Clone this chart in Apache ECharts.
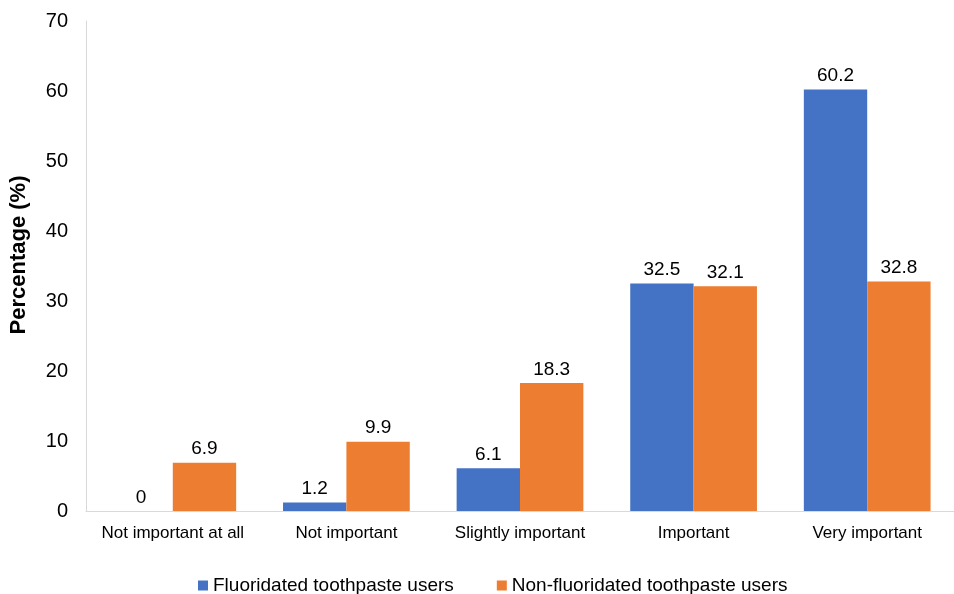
<!DOCTYPE html>
<html>
<head>
<meta charset="utf-8">
<script src="https://cdn.jsdelivr.net/npm/echarts@6/dist/echarts.min.js"></script>
<style>html,body{margin:0;padding:0;background:#fff;overflow:hidden;}#c{width:954px;height:594px;}</style>
</head>
<body>
<div id="c"></div>
<script>
const categories = ["Not important at all", "Not important", "Slightly important", "Important", "Very important"];
const fluoridated = [0, 1.2, 6.1, 32.5, 60.2];
const nonFluoridated = [6.9, 9.9, 18.3, 32.1, 32.8];
const seriesNames = ["Fluoridated toothpaste users", "Non-fluoridated toothpaste users"];
const yMin = 0, yMax = 70, yInterval = 10;

const FONT = '"Liberation Sans", Arial, sans-serif';
const chart = echarts.init(document.getElementById('c'), null, {renderer: 'canvas'});
const labelStyle = {show: true, position: 'top', distance: 4, color: '#000', fontSize: 19, fontFamily: FONT};
chart.setOption({
  animation: false,
  backgroundColor: '#fff',
  grid: {left: 77, top: 21, height: 490, width: 894, containLabel: false},
  legend: {
    left: 193, top: 571,
    icon: 'rect', itemWidth: 10, itemHeight: 10, itemGap: 43,
    textStyle: {color: '#000', fontSize: 19, fontFamily: FONT},
    data: seriesNames
  },
  xAxis: {
    type: 'category', data: categories,
    axisLine: {lineStyle: {color: '#d9d9d9', width: 1}},
    axisTick: {show: false},
    axisLabel: {color: '#000', fontSize: 17, fontFamily: FONT, margin: 14, interval: 0}
  },
  yAxis: {
    type: 'value', min: yMin, max: yMax, interval: yInterval,
    name: 'Percentage (%)', nameLocation: 'middle', nameGap: 56,
    nameTextStyle: {color: '#000', fontSize: 22, fontWeight: 'bold', fontFamily: FONT, padding: [0, 0, 0, 22]},
    axisLine: {show: true, lineStyle: {color: '#d9d9d9', width: 1}},
    axisTick: {show: false},
    splitLine: {show: false},
    axisLabel: {color: '#000', fontSize: 20, fontFamily: FONT, margin: 18}
  },
  series: [
    {name: seriesNames[0], type: 'bar', data: fluoridated, itemStyle: {color: '#4472C4'},
     barGap: '0%', barCategoryGap: '27%', label: labelStyle},
    {name: seriesNames[1], type: 'bar', data: nonFluoridated, itemStyle: {color: '#ED7D31'},
     barGap: '0%', barCategoryGap: '27%', label: labelStyle}
  ]
});
</script>
</body>
</html>
